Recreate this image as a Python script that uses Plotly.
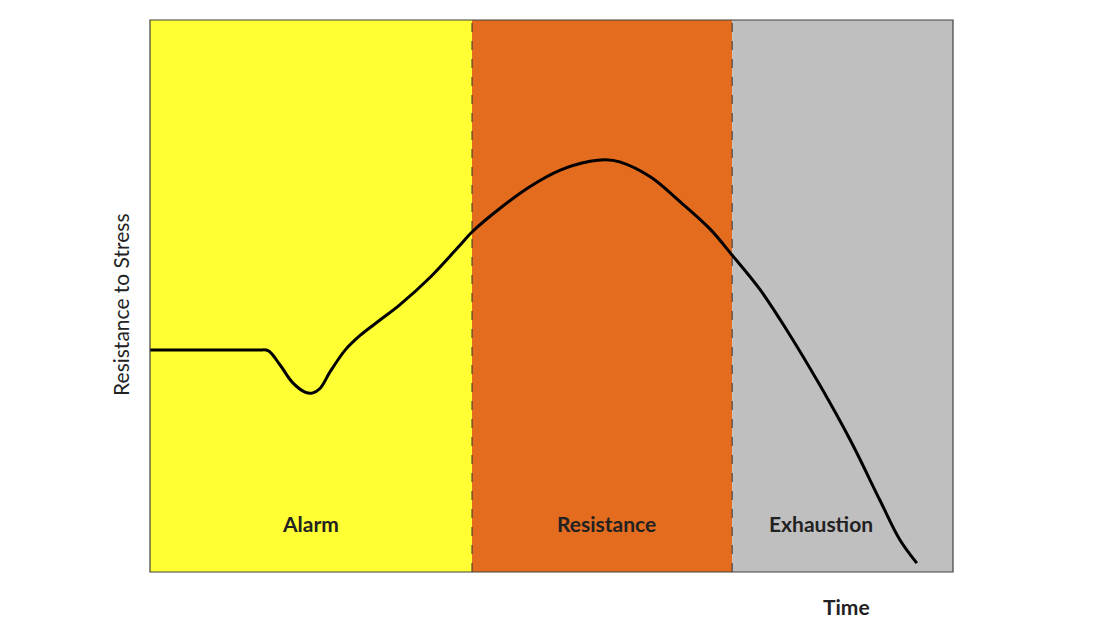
import plotly.graph_objects as go

# Data
phases = ["Alarm", "Resistance", "Exhaustion"]
phase_start = [0, 40.1, 72.5]
phase_end = [40.1, 72.5, 100]
phase_colors = ["#FFFF33", "#E36C1F", "#BFBFBF"]
label_x = [20.0, 56.8, 83.6]
label_y = 8.7

time = [0, 5.0, 10.0, 13.5, 14.7, 16.2, 17.7, 19.3, 20.2, 21.2, 22.4, 24.3, 26.2, 28.6, 31.1, 34.9, 38.6,
        40.1, 43.6, 47.3, 51.1, 54.8, 56.7, 58.5, 62.3, 66.0, 69.7, 72.5, 76.0, 79.7,
        83.4, 87.2, 90.9, 93.4, 95.5]
resistance = [40.2, 40.2, 40.2, 40.2, 40.1, 37.5, 34.4, 32.6, 32.4, 33.3, 36.2, 40.2, 42.9, 45.6, 48.4, 53.4, 59.2,
              61.6, 65.9, 69.8, 72.8, 74.4, 74.7, 74.3, 71.6, 67.1, 62.2, 57.4, 51.1, 42.9,
              33.9, 23.9, 13.0, 5.8, 1.6]

fig = go.Figure()

shapes = []
for s, e, c in zip(phase_start, phase_end, phase_colors):
    shapes.append(dict(type="rect", xref="x", yref="paper", x0=s, x1=e, y0=0, y1=1,
                       fillcolor=c, line=dict(width=0), layer="below"))
for b in phase_start[1:]:
    shapes.append(dict(type="line", xref="x", yref="paper", x0=b, x1=b, y0=0, y1=1,
                       line=dict(color="#333333", width=1, dash="dash"), layer="below"))
shapes.append(dict(type="rect", xref="paper", yref="paper", x0=0, x1=1, y0=0, y1=1,
                   line=dict(color="#404040", width=1.2), fillcolor="rgba(0,0,0,0)"))

fig.add_trace(go.Scatter(x=time, y=resistance, mode="lines",
                         line=dict(color="black", width=3, shape="spline", smoothing=1.0),
                         hoverinfo="skip", showlegend=False))

annotations = []
for name, lx in zip(phases, label_x):
    annotations.append(dict(x=lx, y=label_y, xref="x", yref="y", text=f"<b>{name}</b>",
                            xanchor="center", yanchor="middle",
                            showarrow=False, font=dict(family="Lato", size=21, color="#222222")))
annotations.append(dict(x=0.867, y=-0.062, xref="paper", yref="paper", text="<b>Time</b>",
                        xanchor="center", yanchor="middle",
                        showarrow=False, font=dict(family="Lato", size=21, color="#222222")))
annotations.append(dict(x=-0.036, y=0.484, xref="paper", yref="paper", text="Resistance to Stress",
                        xanchor="center", yanchor="middle",
                        textangle=-90, showarrow=False,
                        font=dict(family="Lato", size=21, color="#222222")))

fig.update_layout(
    width=1110, height=622,
    margin=dict(l=150, r=157, t=20, b=50, autoexpand=False),
    paper_bgcolor="white", plot_bgcolor="white",
    xaxis=dict(range=[0, 100], visible=False, fixedrange=True),
    yaxis=dict(range=[0, 100], visible=False, fixedrange=True),
    shapes=shapes, annotations=annotations,
    showlegend=False,
)

# remove the browser's default 8px body margin so the figure fills the window exactly
fig.write_html("out.html", config={"displayModeBar": False},
               post_script="document.body.style.margin='0';document.body.style.overflow='hidden';")
